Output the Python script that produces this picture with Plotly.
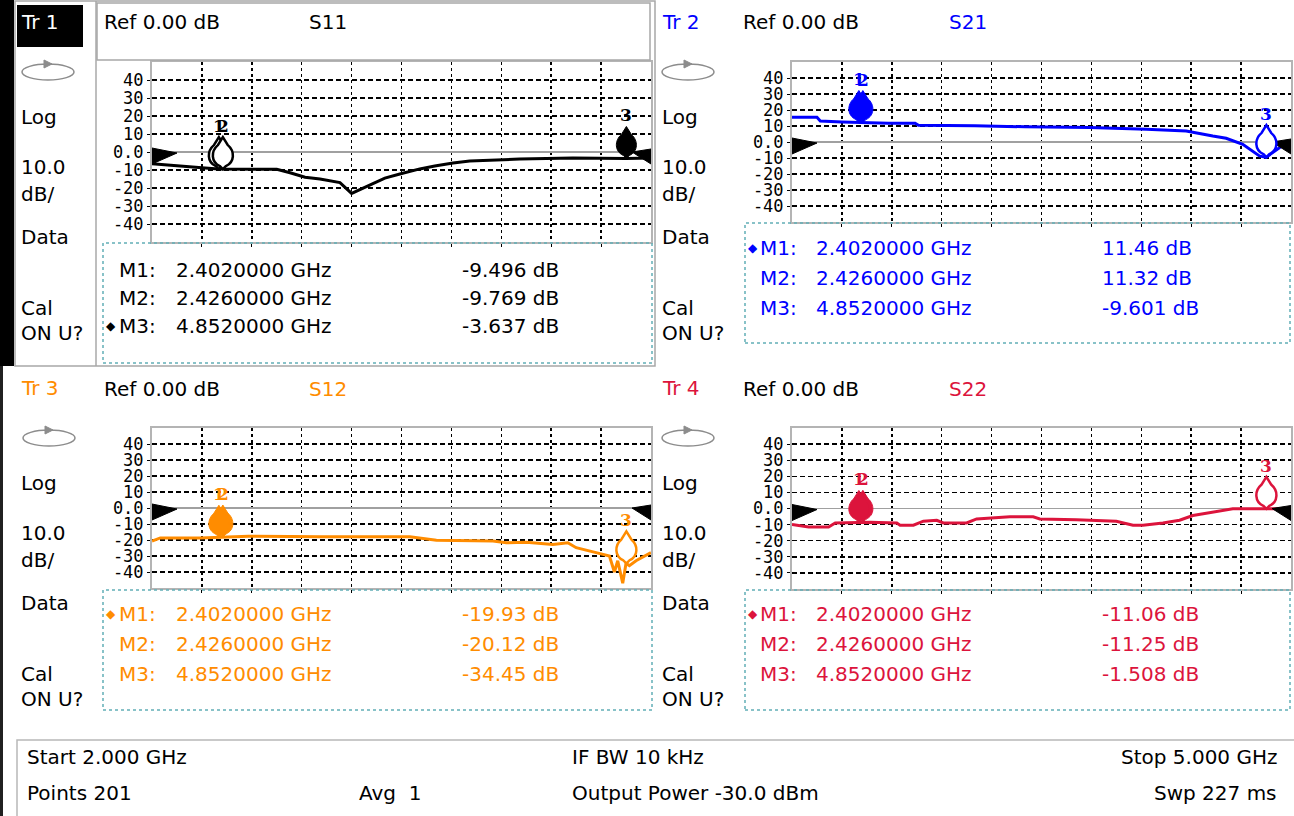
import plotly.graph_objects as go
import numpy as np

W, H = 1294, 816

# ---------------- data ----------------
FREQ_START = 2.0   # GHz
FREQ_STOP = 5.0    # GHz
REF_LEVEL = 0.0    # dB
Y_MIN, Y_MAX = -50, 50
Y_TICK_VALS = [40, 30, 20, 10, 0, -10, -20, -30, -40]
Y_TICK_TEXT = ["40", "30", "20", "10", "0.0", "-10", "-20", "-30", "-40"]
X_GRID_GHZ = [2.3, 2.6, 2.9, 3.2, 3.5, 3.8, 4.1, 4.4, 4.7]

s11_freq = [2.00, 2.08, 2.20, 2.30, 2.40, 2.50, 2.65, 2.75, 2.83, 2.92, 3.01, 3.13, 3.20,
            3.31, 3.40, 3.49, 3.61, 3.70, 3.81, 3.91, 4.21, 4.53, 4.85, 5.00]
s11_db = [-6.5, -7.2, -8.2, -8.8, -9.5, -9.6, -9.5, -9.6, -11.5, -14.0, -15.0, -17.0, -23.0,
          -18.5, -14.5, -12.2, -9.4, -7.8, -6.1, -5.0, -3.9, -3.3, -3.6, -3.3]

s21_freq = [2.00, 2.15, 2.17, 2.30, 2.58, 2.74, 2.76, 3.10, 3.40, 3.79, 4.13, 4.37, 4.53,
            4.61, 4.71, 4.81, 4.85, 4.93, 5.00]
s21_db = [15.4, 15.4, 13.1, 12.5, 11.7, 11.7, 10.4, 10.2, 9.5, 9.0, 8.0, 6.9, 3.7,
          2.3, -1.4, -8.7, -9.6, -3.6, 0.6]

s12_freq = [2.00, 2.05, 2.29, 2.58, 2.83, 3.01, 3.55, 3.71, 4.05, 4.13, 4.25, 4.41, 4.50,
            4.55, 4.67, 4.75, 4.78, 4.80, 4.83, 4.85, 4.87, 4.91, 5.00]
s12_db = [-20.7, -18.7, -18.7, -17.6, -17.8, -18.0, -18.0, -20.1, -20.7, -21.7, -21.4, -22.8, -21.7,
          -24.8, -27.9, -30.0, -40.0, -33.0, -47.0, -34.5, -36.0, -33.0, -27.9]

s22_freq = [2.00, 2.10, 2.22, 2.26, 2.47, 2.63, 2.65, 2.73, 2.79, 2.87, 2.91, 3.05, 3.11,
            3.31, 3.45, 3.49, 3.71, 3.95, 4.05, 4.11, 4.23, 4.33, 4.41, 4.53, 4.65, 5.00]
s22_db = [-10.0, -11.5, -11.5, -9.0, -8.5, -9.0, -10.4, -10.4, -7.9, -7.3, -9.0, -9.0, -6.5,
          -5.2, -5.2, -6.5, -7.0, -7.9, -10.4, -10.4, -9.0, -7.3, -4.4, -2.3, -0.2, -0.2]

marker_freq = [2.402, 2.426, 4.852]
marker_num = ["1", "2", "3"]
marker_names = ["M1:", "M2:", "M3:"]
marker_freq_text = ["2.4020000 GHz", "2.4260000 GHz", "4.8520000 GHz"]
s11_marker_text = ["-9.496 dB", "-9.769 dB", "-3.637 dB"]
s21_marker_text = ["11.46 dB", "11.32 dB", "-9.601 dB"]
s12_marker_text = ["-19.93 dB", "-20.12 dB", "-34.45 dB"]
s22_marker_text = ["-11.06 dB", "-11.25 dB", "-1.508 dB"]

status_row1 = ["Start 2.000 GHz", "IF BW 10 kHz", "Stop 5.000 GHz"]
status_row2 = ["Points 201", "Avg  1", "Output Power -30.0 dBm", "Swp 227 ms"]

# ---------------- style / layout ----------------
FONT = "DejaVu Sans"
TICK_FONT = "DejaVu Sans Mono"
FS = 20
GRID_COLOR = "black"
BOX_COLOR = "#b4b4b4"
TEAL = "#62aeb6"
FRAME_GRAY = "#a8a8a8"

panels = [
    dict(name="S11", tr="Tr 1", color="black", freq=s11_freq, db=s11_db, mtext=s11_marker_text,
         xbox=(152, 651), ybox=(62, 242), left=19, top=0, hx=102, hy=22, sx=307,
         table=(103, 243, 652, 363), rows=[270, 298, 326], active=2, filled=[2], shown=[0, 1, 2],
         cols=(104, 117, 174, 460), oval=(48, 72)),
    dict(name="S21", tr="Tr 2", color="#0000ff", freq=s21_freq, db=s21_db, mtext=s21_marker_text,
         xbox=(792, 1291), ybox=(62, 222), left=660, top=0, hx=741, hy=22, sx=947,
         table=(745, 223, 1290, 343), rows=[248, 278, 308], active=0, filled=[0, 1], shown=[1, 0, 2],
         cols=(746, 758, 814, 1100), oval=(688, 72)),
    dict(name="S12", tr="Tr 3", color="#ff8c00", freq=s12_freq, db=s12_db, mtext=s12_marker_text,
         xbox=(152, 651), ybox=(428, 588), left=19, top=366, hx=102, hy=389, sx=307,
         table=(103, 590, 652, 710), rows=[614, 644, 674], active=0, filled=[0, 1], shown=[1, 0, 2],
         cols=(104, 117, 174, 460), oval=(49, 438)),
    dict(name="S22", tr="Tr 4", color="#dc143c", freq=s22_freq, db=s22_db, mtext=s22_marker_text,
         xbox=(792, 1291), ybox=(428, 589), left=660, top=366, hx=741, hy=389, sx=947,
         table=(745, 590, 1290, 710), rows=[614, 644, 674], active=0, filled=[0, 1], shown=[1, 0, 2],
         cols=(746, 758, 814, 1100), oval=(688, 438)),
]


def fx(px):
    return px / W


def fy(py):
    return 1 - py / H


annotations = []
shapes = []


def txt(x, y, s, color="black", size=FS, anchor="left", family=FONT):
    annotations.append(dict(x=fx(x), y=fy(y), xref="paper", yref="paper", text=s,
                            showarrow=False, xanchor=anchor, yanchor="middle",
                            font=dict(family=family, size=size, color=color)))


def rect(x0, y0, x1, y1, color, width=1.5, fill="rgba(0,0,0,0)", dash="solid", layer="above"):
    shapes.append(dict(type="rect", xref="paper", yref="paper", x0=fx(x0), x1=fx(x1),
                       y0=fy(y1), y1=fy(y0), line=dict(color=color, width=width, dash=dash),
                       fillcolor=fill, layer=layer))


def ppath(points, color, fill):
    d = "M" + " L".join(f"{fx(a):.5f},{fy(b):.5f}" for a, b in points) + " Z"
    shapes.append(dict(type="path", xref="paper", yref="paper", path=d,
                       line=dict(color=color, width=1), fillcolor=fill, layer="above"))


fig = go.Figure()

# left dark strip + active-panel frame
rect(0, 0, 14, 366, "black", 0, fill="black", layer="below")
rect(0, 366, 3, 816, "#202020", 0, fill="#202020", layer="below")
rect(15, 1, 655, 366, FRAME_GRAY, 1.5)
shapes.append(dict(type="line", xref="paper", yref="paper", x0=fx(96), x1=fx(96), y0=fy(1), y1=fy(366),
                   line=dict(color=FRAME_GRAY, width=1.5)))
rect(97, 3, 650, 60, FRAME_GRAY, 1.5)

MARKER_PATH = "M0,0 L-3,3 C-12,7 -12,18 -5,24 L0,32 L5,24 C12,18 12,7 3,3 Z"

for i, p in enumerate(panels):
    k = "" if i == 0 else str(i + 1)
    xid, yid = "x" + k, "y" + k
    x0, x1 = p["xbox"]
    y0, y1 = p["ybox"]
    fig.update_layout({
        "xaxis" + k: dict(domain=[fx(x0), fx(x1)], range=[FREQ_START, FREQ_STOP], anchor=yid,
                          showline=True, mirror=True, linecolor=BOX_COLOR, linewidth=2,
                          tickvals=X_GRID_GHZ, showticklabels=False, ticks="outside", ticklen=3,
                          tickcolor="black", showgrid=True, gridcolor=GRID_COLOR, gridwidth=1.5,
                          griddash="dot", zeroline=False, fixedrange=True),
        "yaxis" + k: dict(domain=[fy(y1), fy(y0)], range=[Y_MIN, Y_MAX], anchor=xid,
                          tickvals=Y_TICK_VALS, ticktext=Y_TICK_TEXT, ticks="outside", ticklen=3,
                          tickcolor="black", tickfont=dict(family=TICK_FONT, size=17, color="black"),
                          showgrid=True, gridcolor=GRID_COLOR, gridwidth=1.5, griddash="5px,3px",
                          zeroline=True, zerolinecolor="#a0a0a0", zerolinewidth=1.5,
                          showline=True, mirror=True, linecolor=BOX_COLOR, linewidth=2,
                          fixedrange=True),
    })
    fig.add_trace(go.Scatter(x=p["freq"], y=p["db"], mode="lines", xaxis=xid, yaxis=yid,
                             line=dict(color=p["color"], width=3), hoverinfo="skip",
                             showlegend=False))

    # reference level arrows
    shapes.append(dict(type="path", xref=xid, yref=yid, xsizemode="pixel", ysizemode="pixel",
                       xanchor=FREQ_START, yanchor=REF_LEVEL, path="M0,4 L25,-1 L0,-12 Z",
                       line=dict(color="black", width=1), fillcolor="black", layer="above"))
    shapes.append(dict(type="path", xref=xid, yref=yid, xsizemode="pixel", ysizemode="pixel",
                       xanchor=FREQ_STOP, yanchor=REF_LEVEL, path="M0,3 L-19,0 L0,-12 Z",
                       line=dict(color="black", width=1), fillcolor="black", layer="above"))

    # markers
    for m in p["shown"]:
        f = marker_freq[m]
        v = float(np.interp(f, p["freq"], p["db"]))
        filled = (m in p["filled"])
        shapes.append(dict(type="path", xref=xid, yref=yid, xsizemode="pixel", ysizemode="pixel",
                           xanchor=f, yanchor=v, path=MARKER_PATH,
                           line=dict(color=p["color"], width=1 if filled else 2.5),
                           fillcolor=p["color"] if filled else "white", layer="above"))
        annotations.append(dict(x=f, y=v, xref=xid, yref=yid, yshift=43, showarrow=False,
                                text="<b>" + marker_num[m] + "</b>", xanchor="center",
                                yanchor="middle",
                                font=dict(family="DejaVu Serif", size=17, color=p["color"])))

    # header
    txt(p["hx"], p["hy"], "Ref 0.00 dB")
    txt(p["sx"], p["hy"], p["name"], color=p["color"])

    # left-side labels
    L, T = p["left"], p["top"]
    if i == 0:
        rect(17, 5, 83, 47, "black", 0, fill="black")
        txt(L, T + 22, p["tr"], color="white")
    else:
        txt(L, T + 22, p["tr"], color=p["color"])
    for lab, dy in [("Log", 117), ("10.0", 167), ("dB/", 194), ("Data", 237), ("Cal", 308), ("ON U?", 333)]:
        txt(L, T + dy, lab)
    cx, cy = p["oval"]
    shapes.append(dict(type="circle", xref="paper", yref="paper", x0=fx(cx - 26), x1=fx(cx + 26),
                       y0=fy(cy + 8), y1=fy(cy - 8), line=dict(color="#8c8c8c", width=1.5),
                       fillcolor="rgba(0,0,0,0)"))
    ppath([(cx - 4, cy - 12), (cx + 4, cy - 8), (cx - 4, cy - 4)], "#8c8c8c", "#8c8c8c")

    # marker table
    tx0, ty0, tx1, ty1 = p["table"]
    rect(tx0, ty0, tx1, ty1, TEAL, 1.5, dash="dot")
    c0, c1, c2, c3 = p["cols"]
    for r in range(3):
        yy = p["rows"][r]
        if r == p["active"]:
            txt(c0, yy, "\u25c6", color=p["color"], size=12)
        txt(c1, yy, marker_names[r], color=p["color"])
        txt(c2, yy, marker_freq_text[r], color=p["color"])
        txt(c3, yy, p["mtext"][r], color=p["color"])

# status bar
rect(17, 740, 1296, 818, "#b8b8b8", 1.5)
txt(25, 757, status_row1[0])
txt(570, 757, status_row1[1])
txt(1279, 757, status_row1[2], anchor="right")
txt(25, 793, status_row2[0])
txt(357, 793, status_row2[1])
txt(570, 793, status_row2[2])
txt(1279, 793, status_row2[3], anchor="right")

fig.update_layout(width=W, height=H, margin=dict(l=0, r=0, t=0, b=0),
                  paper_bgcolor="white", plot_bgcolor="white",
                  shapes=shapes, annotations=annotations, showlegend=False)

fig.write_html("out.html", config={"displayModeBar": False, "staticPlot": True},
               post_script="document.body.style.margin='0';"
                           "document.documentElement.style.overflow='hidden';"
                           "document.body.style.overflow='hidden';")
